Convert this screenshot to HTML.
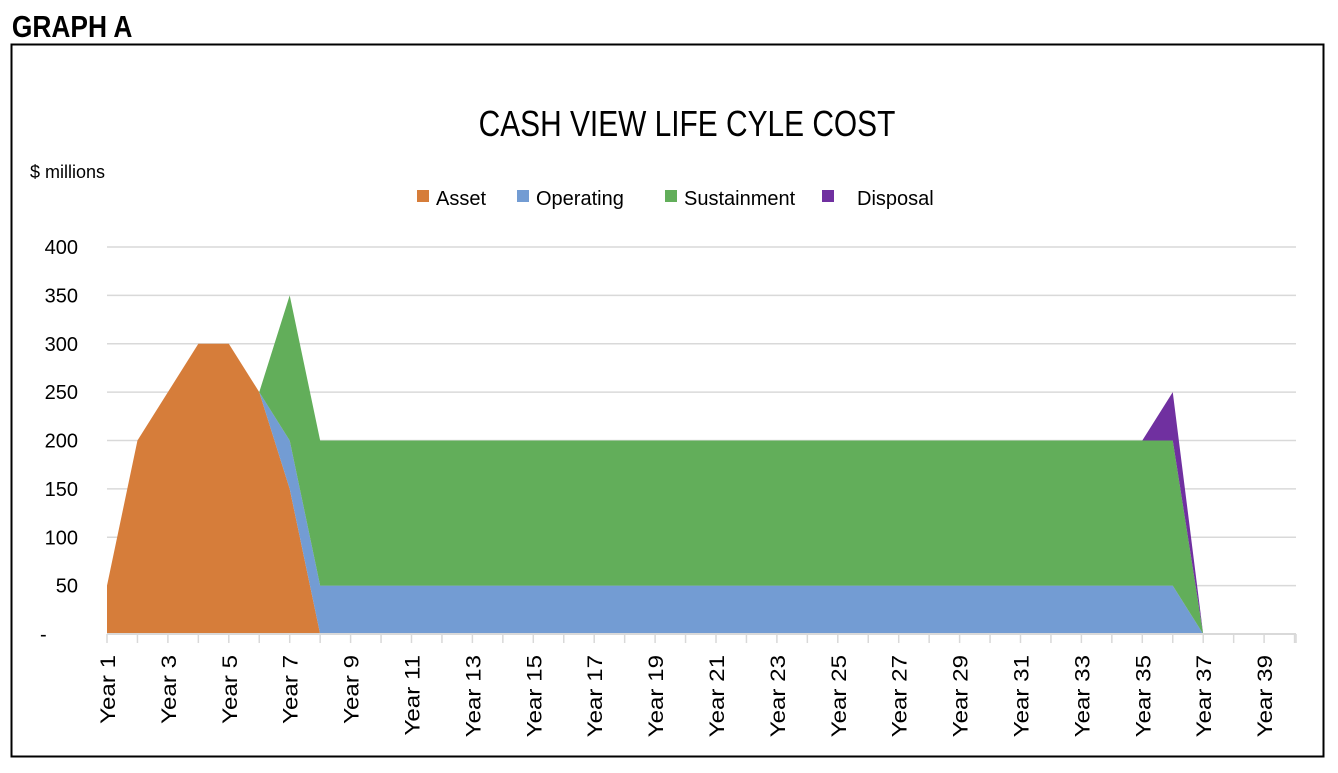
<!DOCTYPE html>
<html><head><meta charset="utf-8"><style>
body{margin:0;background:#fff;width:1338px;height:768px;overflow:hidden;font-family:"Liberation Sans",sans-serif}
</style></head><body>
<svg width="1338" height="768" viewBox="0 0 1338 768">
<text x="14" y="37" font-size="31" font-weight="bold" font-family="Liberation Sans Narrow, Liberation Sans, sans-serif" transform="scale(0.85,1)">GRAPH A</text>
<rect x="11.5" y="44.5" width="1312" height="712" fill="none" stroke="#000" stroke-width="2"/>
<text x="0" y="0" text-anchor="middle" font-size="36" transform="translate(687,136) scale(0.83,1)">CASH VIEW LIFE CYLE COST</text>
<text x="30" y="178" font-size="18">$ millions</text>
<g id="legend"></g>
<g id="grid"></g><g id="areas"></g><g id="axes"></g>
</svg>
<script>
const categories=[];for(let i=1;i<=40;i++)categories.push('Year '+i);
const asset=[50,200,250,300,300,250,150,0,0,0,0,0,0,0,0,0,0,0,0,0,0,0,0,0,0,0,0,0,0,0,0,0,0,0,0,0,0];
const operating=[0,0,0,0,0,0,50,50,50,50,50,50,50,50,50,50,50,50,50,50,50,50,50,50,50,50,50,50,50,50,50,50,50,50,50,50,0];
const sustainment=[0,0,0,0,0,0,150,150,150,150,150,150,150,150,150,150,150,150,150,150,150,150,150,150,150,150,150,150,150,150,150,150,150,150,150,150,0];
const disposal=[0,0,0,0,0,0,0,0,0,0,0,0,0,0,0,0,0,0,0,0,0,0,0,0,0,0,0,0,0,0,0,0,0,0,0,50,0];
const yTicks=[0,50,100,150,200,250,300,350,400];
const yTickLabels=['-','50','100','150','200','250','300','350','400'];
const seriesNames=['Asset','Operating','Sustainment','Disposal'];
const colors=['#D67D3A','#739CD3','#62AE5A','#7030A0'];
const NS='http://www.w3.org/2000/svg';
const x0=107,step=30.45,y0=634,ky=(634-247)/400;
const X=i=>x0+i*step, Y=v=>y0-v*ky;
function mk(t,a,p){const e=document.createElementNS(NS,t);for(const k in a)e.setAttribute(k,a[k]);p.appendChild(e);return e;}
const grid=document.getElementById('grid'),axes=document.getElementById('axes'),areas=document.getElementById('areas'),legend=document.getElementById('legend');
yTicks.forEach((v,i)=>{
 if(v>0){const l=mk('line',{x1:x0,x2:1296,y1:Y(v),y2:Y(v),stroke:'#d9d9d9','stroke-width':1.5},grid);
 
 }
 const t=mk('text',{x:v===0?40:78,y:Y(v)+7,'text-anchor':v===0?'start':'end','font-size':20},axes);
 t.textContent=yTickLabels[i];
 
 
});
const all=[asset,operating,sustainment,disposal];
let base=asset.map(()=>0);
all.forEach((s,si)=>{
 const top=s.map((v,i)=>base[i]+v);
 let d='M'+X(0)+','+Y(top[0]);
 for(let i=1;i<s.length;i++)d+=' L'+X(i)+','+Y(top[i]);
 for(let i=s.length-1;i>=0;i--)d+=' L'+X(i)+','+Y(base[i]);
 const p=mk('path',{d:d+'Z',fill:colors[si]},areas);
 
 
 base=top;
});
const ax=mk('line',{x1:x0,x2:1296,y1:y0,y2:y0,stroke:'#d9d9d9','stroke-width':2},axes);


categories.forEach((c,i)=>{
 mk('line',{x1:X(i),x2:X(i),y1:y0,y2:y0+9,stroke:'#d9d9d9','stroke-width':1.5},axes);
 if(i%2===0){const t=mk('text',{x:0,y:0,'text-anchor':'end','font-size':21,transform:'translate('+(X(i)+8)+','+(y0+21)+') rotate(-90) scale(1.15,1)'},axes);
 t.textContent=c;
 
 }
});
mk('line',{x1:1296,x2:1296,y1:y0,y2:y0+9,stroke:'#d9d9d9','stroke-width':1.5},axes);
const lx=[417,517,665,822];
seriesNames.forEach((n,i)=>{
 const r=mk('rect',{x:lx[i],y:190,width:12,height:12,fill:colors[i]},legend);
 
 
 const t=mk('text',{x:lx[i]+(i==3?35:19),y:205,'font-size':20},legend);
 t.textContent=n;
 
 
});
</script>
</body></html>
